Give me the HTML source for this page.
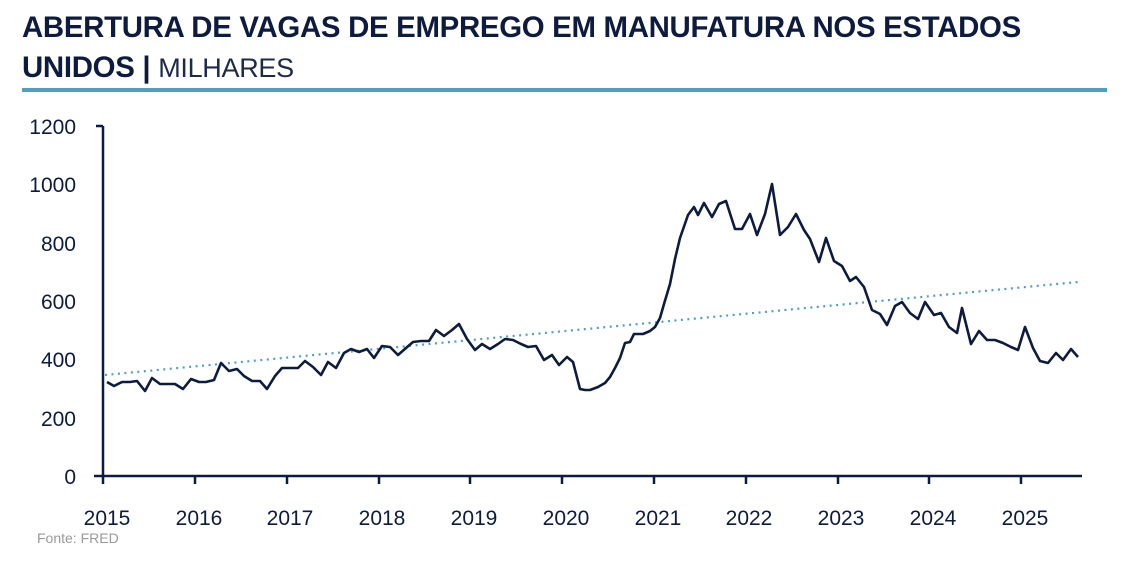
<!DOCTYPE html>
<html><head><meta charset="utf-8"><style>
body{margin:0;width:1123px;height:564px;background:#fff;overflow:hidden;font-family:"Liberation Sans",sans-serif;color:#0d1b3e}
.t{position:absolute;left:22px;font-weight:bold;font-size:29.4px;letter-spacing:-0.3px;white-space:nowrap}
</style></head><body>
<div class="t" style="top:11px">ABERTURA DE VAGAS DE EMPREGO EM MANUFATURA NOS ESTADOS</div>
<div class="t" style="top:51px">UNIDOS <span style="font-weight:bold">|</span> <span style="font-weight:normal;color:#1d2a4a;font-size:27px">MILHARES</span></div>
<div style="position:absolute;left:22px;top:88px;width:1085px;height:4px;background:#4f9fc0"></div>
<svg width="1123" height="564" style="position:absolute;left:0;top:0">
<g font-size="21" fill="#0d1b3e" text-anchor="end">
<text x="76" y="134">1200</text><text x="76" y="192">1000</text><text x="76" y="251">800</text>
<text x="76" y="309">600</text><text x="76" y="367">400</text><text x="76" y="426">200</text><text x="76" y="484">0</text>
</g>
<g stroke="#0d1b3e" stroke-width="2.5" fill="none">
<path d="M103,126V477M96,126H103M94,476H1082"/>
<path d="M103,476v8M195,476v8M287,476v8M379,476v8M470,476v8M562,476v8M654,476v8M746,476v8M838,476v8M929,476v8M1021,476v8"/>
</g>
<g font-size="21" fill="#0d1b3e" text-anchor="middle">
<text x="107" y="525">2015</text><text x="199" y="525">2016</text><text x="290" y="525">2017</text><text x="382" y="525">2018</text><text x="474" y="525">2019</text><text x="566" y="525">2020</text><text x="658" y="525">2021</text><text x="749" y="525">2022</text><text x="841" y="525">2023</text><text x="933" y="525">2024</text><text x="1025" y="525">2025</text>
</g>
<text x="37" y="543" font-size="14" fill="#999">Fonte: FRED</text>
<line x1="105" y1="375" x2="1078" y2="282" stroke="#4f9fc0" stroke-width="2.2" stroke-dasharray="2,4.5"/>
<polyline fill="none" stroke="#0d1b3e" stroke-width="2.6" stroke-linejoin="round" points="107,382 114,386 122,382 130,382 137,381 145,391 152,378 160,384 167,384 175,384 183,389 191,379 199,382 206,382 214,380 221,363 229,371 237,369 244,376 252,381 260,381 267,389 275,376 282,368 290,368 298,368 305,361 313,367 321,375 328,362 336,368 344,353 351,349 359,352 367,349 374,358 382,346 390,347 398,355 406,348 413,342 421,341 429,341 436,330 444,336 452,330 459,324 467,339 475,350 482,344 490,349 498,344 505,339 513,340 521,344 528,347 536,346 544,360 552,355 559,365 567,357 573,362 580,389 585,390 590,390 598,387 605,383 610,377 615,368 620,358 625,343 630,342 634,334 643,334 650,331 655,327 660,318 664,304 670,284 675,259 680,238 688,215 694,207 698,215 704,203 712,217 719,204 726,201 735,229 742,229 750,214 757,235 765,214 772,184 780,235 788,227 796,214 804,230 810,239 819,262 826,238 834,261 842,266 850,281 856,277 864,287 872,310 880,314 887,325 895,306 902,302 910,313 918,319 925,302 934,315 941,313 949,327 957,333 962,308 971,344 979,331 987,340 995,340 1003,343 1011,347 1018,350 1025,327 1033,348 1040,361 1048,363 1056,353 1063,360 1071,349 1078,357"/>
</svg>
</body></html>
